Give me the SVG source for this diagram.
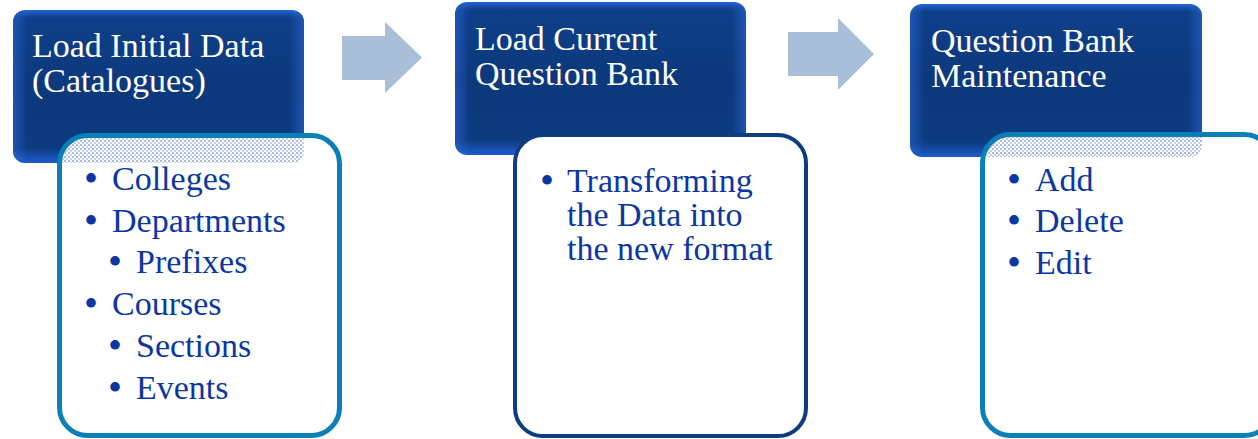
<svg xmlns="http://www.w3.org/2000/svg" width="1258" height="439" viewBox="0 0 1258 439">
<style>
.hdr{font-family:"Liberation Serif","Times New Roman",serif;font-size:34px;fill:#ffffff}
.lst{font-family:"Liberation Serif","Times New Roman",serif;font-size:34px;fill:#0c37a3}
.b{font-size:40px}
.dark{fill:url(#gV)}
.edge{fill:url(#gH)}
.wb{fill:#ffffff}
.teal{fill:none;stroke:#0a7fb8;stroke-width:5}
.navy{fill:none;stroke:#0e3c80;stroke-width:4}
.arrow{fill:#a9bfd9}
</style>
<defs>
<linearGradient id="gV" x1="0" y1="0" x2="0" y2="1">
<stop offset="0" stop-color="#2066d4"/>
<stop offset="0.05" stop-color="#0f3f8a"/>
<stop offset="0.5" stop-color="#0c397c"/>
<stop offset="0.9" stop-color="#0d3b80"/>
<stop offset="1" stop-color="#1e5ccc"/>
</linearGradient>
<linearGradient id="gH" x1="0" y1="0" x2="1" y2="0">
<stop offset="0" stop-color="#2a6ad8" stop-opacity="0.55"/>
<stop offset="0.05" stop-color="#2a6ad8" stop-opacity="0"/>
<stop offset="0.95" stop-color="#2a6ad8" stop-opacity="0"/>
<stop offset="1" stop-color="#2a6ad8" stop-opacity="0.55"/>
</linearGradient>
<pattern id="dots" width="4" height="4" patternUnits="userSpaceOnUse">
<rect width="4" height="4" fill="#ffffff"/>
<rect x="0" y="0" width="2" height="2" fill="#a9bbe2"/>
<rect x="2" y="2" width="2" height="2" fill="#c0cdec"/>
</pattern>
<clipPath id="c1"><rect x="62" y="138" width="275" height="295" rx="26"/></clipPath>
<clipPath id="c3"><rect x="985" y="137" width="280" height="296" rx="26"/></clipPath>
</defs>

<g id="connectors">
<polygon class="arrow" points="342,36 385,36 385,22 422,57.5 385,93 385,80 342,80"/>
<polygon class="arrow" points="788,32 838,32 838,18 874,54 838,90 838,76 788,76"/>
</g>

<g id="node1">
<rect class="dark" x="13" y="10" width="291" height="153" rx="12"/>
<rect class="edge" x="13" y="10" width="291" height="153" rx="12"/>
<text class="hdr"><tspan x="32" y="57">Load Initial Data</tspan><tspan x="32" y="92">(Catalogues)</tspan></text>
</g>
<g id="node1-list">
<rect class="wb" x="59.5" y="135.5" width="280" height="300" rx="28"/>
<rect x="13" y="10" width="291" height="153" rx="12" fill="url(#dots)" clip-path="url(#c1)"/>
<rect class="teal" x="59.5" y="135.5" width="280" height="300" rx="28"/>
<text class="lst">
<tspan class="b" x="84" y="192">•</tspan><tspan x="112" y="190">Colleges</tspan>
<tspan class="b" x="84" y="234">•</tspan><tspan x="112" y="232">Departments</tspan>
<tspan class="b" x="108" y="275">•</tspan><tspan x="136" y="273">Prefixes</tspan>
<tspan class="b" x="84" y="317">•</tspan><tspan x="112" y="315">Courses</tspan>
<tspan class="b" x="108" y="359">•</tspan><tspan x="136" y="357">Sections</tspan>
<tspan class="b" x="108" y="401">•</tspan><tspan x="136" y="399">Events</tspan>
</text>
</g>

<g id="node2">
<rect class="dark" x="455" y="2" width="291" height="153" rx="12"/>
<rect class="edge" x="455" y="2" width="291" height="153" rx="12"/>
<text class="hdr"><tspan x="475" y="50">Load Current</tspan><tspan x="475" y="85">Question Bank</tspan></text>
</g>
<g id="node2-list">
<rect class="wb" x="515" y="135" width="291" height="301" rx="28"/>
<rect class="navy" x="515" y="135" width="291" height="301" rx="28"/>
<text class="lst">
<tspan class="b" x="540" y="194">•</tspan><tspan x="567" y="192">Transforming</tspan>
<tspan x="567" y="226">the Data into</tspan>
<tspan x="567" y="260">the new format</tspan>
</text>
</g>

<g id="node3">
<rect class="dark" x="910" y="4" width="292" height="153" rx="12"/>
<rect class="edge" x="910" y="4" width="292" height="153" rx="12"/>
<text class="hdr"><tspan x="931" y="52">Question Bank</tspan><tspan x="931" y="87">Maintenance</tspan></text>
</g>
<g id="node3-list">
<rect class="wb" x="982.5" y="134.5" width="290" height="301" rx="28"/>
<rect x="910" y="4" width="292" height="153" rx="12" fill="url(#dots)" clip-path="url(#c3)"/>
<rect class="teal" x="982.5" y="134.5" width="290" height="301" rx="28"/>
<text class="lst">
<tspan class="b" x="1007" y="193">•</tspan><tspan x="1035" y="191">Add</tspan>
<tspan class="b" x="1007" y="234">•</tspan><tspan x="1035" y="232">Delete</tspan>
<tspan class="b" x="1007" y="276">•</tspan><tspan x="1035" y="274">Edit</tspan>
</text>
</g>
</svg>
